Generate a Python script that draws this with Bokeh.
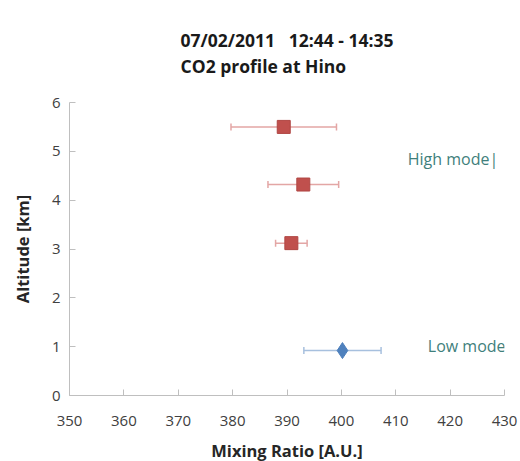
from bokeh.plotting import figure
from bokeh.models import ColumnDataSource, Whisker, TeeHead, Title, Label, Range1d, FixedTicker
from bokeh.embed import file_html
from bokeh.resources import INLINE

# Data
high_alt = [5.5, 4.32, 3.12]
high_co2 = [389.4, 393.0, 390.8]
high_err = [9.7, 6.5, 2.9]
low_alt = [0.92]
low_co2 = [400.2]
low_err = [7.1]
x_ticks = [350, 360, 370, 380, 390, 400, 410, 420, 430]
y_ticks = [0, 1, 2, 3, 4, 5, 6]

FONT = "Open Sans"

p = figure(frame_width=435, frame_height=293, output_backend="svg", toolbar_location=None,
           x_range=Range1d(350, 430), y_range=Range1d(0, 6),
           min_border_left=69, min_border_right=14, min_border_bottom=64, min_border_top=102)
p.outline_line_color = None
p.xgrid.grid_line_color = None
p.ygrid.grid_line_color = None

for ax in (p.xaxis, p.yaxis):
    ax.axis_line_color = "#bfbfbf"
    ax.major_tick_line_color = "#bfbfbf"
    ax.minor_tick_line_color = None
    ax.major_tick_in = 6
    ax.major_tick_out = 0
    ax.major_label_text_font = FONT
    ax.major_label_text_font_size = "15px"
    ax.major_label_text_color = "#404040"
    ax.axis_label_text_font = FONT
    ax.axis_label_text_font_size = "16.5px"
    ax.axis_label_text_font_style = "bold"
    ax.axis_label_text_color = "#262626"

p.xaxis.ticker = FixedTicker(ticks=x_ticks)
p.yaxis.ticker = FixedTicker(ticks=y_ticks)
p.xaxis.major_label_standoff = 20
p.yaxis.major_label_standoff = 9
p.xaxis.axis_label = "Mixing Ratio [A.U.]"
p.yaxis.axis_label = "Altitude [km]"
p.xaxis.axis_label_standoff = 10
p.yaxis.axis_label_standoff = 15

hs = ColumnDataSource(dict(x=high_co2, y=high_alt,
                           lo=[c - e for c, e in zip(high_co2, high_err)],
                           hi=[c + e for c, e in zip(high_co2, high_err)]))
ls = ColumnDataSource(dict(x=low_co2, y=low_alt,
                           lo=[c - e for c, e in zip(low_co2, low_err)],
                           hi=[c + e for c, e in zip(low_co2, low_err)]))

red = "#c0504d"
blue = "#4f81bd"
for src, col in ((hs, "#e3a6a5"), (ls, "#a7c0de")):
    w = Whisker(source=src, base="y", lower="lo", upper="hi", dimension="width",
                line_color=col, line_width=1.5,
                lower_head=TeeHead(size=7, line_color=col, line_width=1.5),
                upper_head=TeeHead(size=7, line_color=col, line_width=1.5))
    p.add_layout(w)

p.scatter("x", "y", source=hs, marker="square", size=13, fill_color=red, line_color="#b04643")
p.scatter("x", "y", source=ls, marker="diamond", size=16, fill_color=blue, line_color=blue)

tc = "#3f7f7c"
p.add_layout(Label(x=412.2, y=4.84, text="High mode|", text_font=FONT, text_font_size="16px",
                   text_color=tc, text_baseline="middle"))
p.add_layout(Label(x=415.9, y=1.02, text="Low mode", text_font=FONT, text_font_size="16px",
                   text_color=tc, text_baseline="middle"))

p.add_layout(Title(text="07/02/2011\u00a0\u00a0\u00a012:44 - 14:35\nCO2 profile at Hino",
                   align="center", text_font=FONT, standoff=49, offset=-26,
                   text_line_height=1.08,
                   text_font_size="17.5px", text_font_style="bold", text_color="#1a1a1a"), "above")

open("out.html", "w").write(file_html(p, INLINE))
